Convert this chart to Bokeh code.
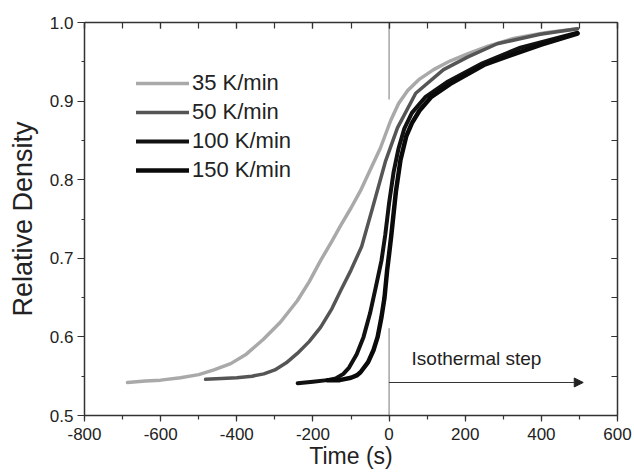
from bokeh.plotting import figure
from bokeh.models import (LinearAxis, Legend, LegendItem, Arrow, NormalHead,
                          Label, FixedTicker, CustomJSTickFormatter)
from bokeh.embed import file_html
from bokeh.resources import INLINE

# ---- data ----
x35 = [-687, -640, -600, -548, -500, -460, -416, -375, -330, -285, -241, -210, -180, -150, -127, -100,
       -75, -50, -23, 4, 25, 48, 80, 117, 160, 206, 260, 330, 410, 495]
y35 = [0.542, 0.544, 0.545, 0.548, 0.552, 0.558, 0.566, 0.578, 0.597, 0.619, 0.646, 0.670, 0.697, 0.722, 0.742, 0.764,
       0.786, 0.812, 0.840, 0.875, 0.897, 0.913, 0.928, 0.940, 0.951, 0.960, 0.970, 0.980, 0.987, 0.992]

x50 = [-482, -440, -400, -360, -329, -300, -270, -241, -210, -180, -150, -127, -100, -72, -44, -9, 22, 70, 143, 206, 284, 397, 495]
y50 = [0.546, 0.547, 0.548, 0.550, 0.553, 0.558, 0.567, 0.579, 0.594, 0.612, 0.636, 0.659, 0.685, 0.715, 0.763, 0.824, 0.866, 0.910, 0.940, 0.956, 0.973, 0.985, 0.992]

x100 = [-240, -200, -162, -140, -120, -105, -85, -67, -50, -35, -20, -10, 0, 12, 25, 40, 60, 95, 155, 245, 345, 440, 495]
y100 = [0.541, 0.543, 0.545, 0.547, 0.553, 0.561, 0.578, 0.600, 0.630, 0.663, 0.697, 0.730, 0.770, 0.810, 0.840, 0.865, 0.885, 0.905, 0.925, 0.948, 0.968, 0.980, 0.987]

x150 = [-162, -130, -100, -85, -75, -55, -41, -30, -20, -12, -5, 0, 6, 18, 30, 45, 60, 80, 110, 161, 249, 311, 400, 495]
y150 = [0.545, 0.545, 0.548, 0.551, 0.555, 0.568, 0.583, 0.600, 0.625, 0.650, 0.685, 0.705, 0.730, 0.785, 0.825, 0.855, 0.872, 0.888, 0.905, 0.922, 0.946, 0.957, 0.972, 0.986]

series_names = ["35 K/min", "50 K/min", "100 K/min", "150 K/min"]
series_colors = ["#a9a9a9", "#555555", "#111111", "#0a0a0a"]
series_widths = [3.5, 3.5, 4, 4.5]

x_ticks = [-800, -600, -400, -200, 0, 200, 400, 600]
x_minor = list(range(-800, 601, 100))
y_ticks = [0.5, 0.6, 0.7, 0.8, 0.9, 1.0]
y_minor = [0.5, 0.55, 0.6, 0.65, 0.7, 0.75, 0.8, 0.85, 0.9, 0.95, 1.0]

# isothermal-step markers
iso_x = 0
iso_upper = [0.902, 1.0]
iso_lower = [0.5, 0.611]
arrow_y = 0.542
arrow_end = 510
iso_label = "Isothermal step"
iso_label_pos = (59, 0.573)

FONT = "Liberation Sans"

p = figure(width=634, height=474, x_range=(-800, 600), y_range=(0.5, 1.0),
           output_backend="svg", toolbar_location=None,
           min_border_left=84, min_border_right=17, min_border_top=22, min_border_bottom=59)
p.xgrid.visible = False
p.ygrid.visible = False
p.outline_line_color = None
p.background_fill_color = "white"

renderers = []
for xs, ys, c, w in zip([x35, x50, x100, x150], [y35, y50, y100, y150], series_colors, series_widths):
    r = p.line(xs, ys, line_color=c, line_width=w, line_join="round", line_cap="round")
    renderers.append(r)

# isothermal step lines
p.line([iso_x, iso_x], iso_upper, line_color="#777777", line_width=1)
p.line([iso_x, iso_x], iso_lower, line_color="#777777", line_width=1)
p.add_layout(Arrow(end=NormalHead(size=9, fill_color="#222222", line_color="#222222"),
                   x_start=iso_x, y_start=arrow_y, x_end=arrow_end, y_end=arrow_y,
                   line_color="#333333", line_width=1))
p.add_layout(Label(x=iso_label_pos[0], y=iso_label_pos[1], text=iso_label,
                   text_font=FONT, text_font_size="19px", text_color="#222222",
                   text_baseline="middle"))

def style_axis(ax, labels=True):
    ax.axis_line_color = "#333333"
    ax.axis_line_width = 1.5
    ax.major_tick_line_color = "#333333"
    ax.minor_tick_line_color = "#333333"
    ax.major_tick_line_width = 1.2
    ax.minor_tick_line_width = 1.2
    ax.major_label_text_font = FONT
    ax.major_label_text_font_size = "17px"
    ax.major_label_text_color = "#222222"
    ax.axis_label_text_font = FONT
    ax.axis_label_text_font_size = "23px"
    ax.axis_label_text_font_style = "normal"
    ax.axis_label_text_color = "#222222"
    if not labels:
        ax.major_label_text_font_size = "0px"
        ax.major_label_text_color = None

xa = p.xaxis[0]
xa.ticker = FixedTicker(ticks=x_ticks, minor_ticks=x_minor)
xa.formatter = CustomJSTickFormatter(code="return tick.toFixed(0);")
xa.axis_label = "Time (s)"
xa.major_tick_out = 6
xa.major_tick_in = 0
xa.minor_tick_out = 4
xa.minor_tick_in = 0
xa.major_label_standoff = 6
xa.axis_label_standoff = 0
style_axis(xa)

ya = p.yaxis[0]
ya.ticker = FixedTicker(ticks=y_ticks, minor_ticks=y_minor)
ya.formatter = CustomJSTickFormatter(code="return tick.toFixed(1);")
ya.axis_label = "Relative Density"
ya.major_tick_out = 7
ya.major_tick_in = 0
ya.minor_tick_out = 3
ya.minor_tick_in = 0
ya.major_label_standoff = 4
ya.axis_label_standoff = 9
style_axis(ya)
ya.axis_label_text_font_size = "27px"

top = LinearAxis(ticker=FixedTicker(ticks=x_ticks, minor_ticks=x_minor))
top.major_tick_in = 6
top.major_tick_out = 0
top.minor_tick_in = 6
top.minor_tick_out = 0
style_axis(top, labels=False)
p.add_layout(top, "above")

right = LinearAxis(ticker=FixedTicker(ticks=y_ticks, minor_ticks=y_minor))
right.major_tick_in = 6
right.major_tick_out = 0
right.minor_tick_in = 6
right.minor_tick_out = 0
style_axis(right, labels=False)
p.add_layout(right, "right")

legend = Legend(items=[LegendItem(label=n, renderers=[r]) for n, r in zip(series_names, renderers)],
                location=(52, 232), glyph_width=53, glyph_height=20, label_height=20,
                spacing=3, padding=0, margin=0, label_standoff=3,
                label_text_font=FONT, label_text_font_size="22px", label_text_color="#222222",
                border_line_color=None, background_fill_alpha=0)
p.add_layout(legend)

open("out.html", "w").write(file_html(p, INLINE))
